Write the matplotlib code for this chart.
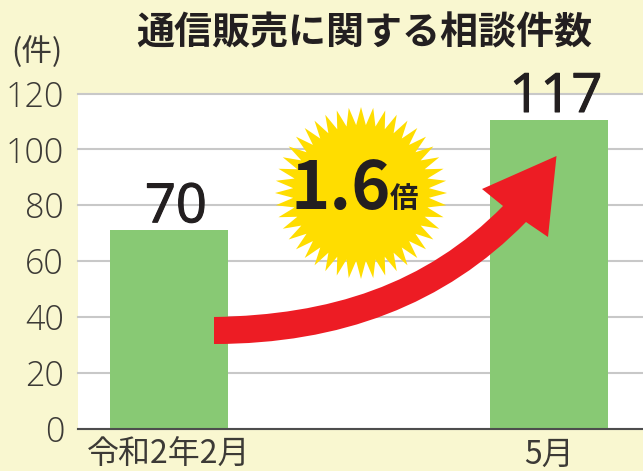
import matplotlib
matplotlib.use("Agg")
import numpy as np
import matplotlib.pyplot as plt
import matplotlib.patheffects as pe
from matplotlib.path import Path
from matplotlib.patches import PathPatch, Polygon
from matplotlib.transforms import Affine2D

plt.rcParams['font.family'] = ['Noto Sans CJK JP', 'DejaVu Sans']

categories = ['令和2年2月', '5月']
bar_heights = [71, 110.5]
value_labels = ['70', '117']
y_ticks = [0, 20, 40, 60, 80, 100, 120]
title = '通信販売に関する相談件数'
unit = '(件)'
W, H = 643, 471
BG = '#f9f7d0'; INK = '#231f20'; GREY = '#3c3a36'

fig = plt.figure(figsize=(W/100, H/100), dpi=100, facecolor=BG)
ax = fig.add_axes([78/W, 1-428.5/H, (W-78)/W, 335/H])
x = np.arange(len(categories))
ax.bar(x, bar_heights, width=118/380, color='#88c974', zorder=2)
ax.set_xlim(-91/380, 1+94/380)
ax.set_ylim(0, 120)
ax.set_yticks(y_ticks)
ax.set_xticks(x, categories)
ax.grid(axis='y', color='#c8c8c8', lw=1.5, zorder=1, clip_on=False)
ax.set_axisbelow(True)
for line in ax.get_ygridlines():
    line.set_clip_on(False)
for s in ['top', 'right', 'left']:
    ax.spines[s].set_visible(False)
ax.spines['bottom'].set_color('#4d4d4d')
ax.spines['bottom'].set_linewidth(1.5)
ax.spines['bottom'].set_zorder(4)
ax.tick_params(axis='y', length=0, labelsize=24.5, labelcolor=GREY, pad=10)
ax.tick_params(axis='x', length=0, labelsize=23, labelcolor=GREY, pad=7.5)
for lab in ax.get_yticklabels():
    lab.set_fontfamily(['Open Sans', 'DejaVu Sans'])
    lab.set_fontweight('light')

px = Affine2D().scale(1, -1).translate(0, H)  # pixel coordinates, y down

for xi, h, s in zip(x, bar_heights, value_labels):
    ax.annotate(s, (xi, h), xytext=(5, 5.8), textcoords='offset points', ha='center', va='baseline',
                fontsize=39, color=INK, zorder=5, annotation_clip=False,
                family=['Open Sans', 'DejaVu Sans'],
                path_effects=[pe.withStroke(linewidth=0.8, foreground=INK)])

fig.text(364/W, 1-33/H, title, ha='center', va='center', fontsize=27.4, fontweight='bold', color=INK)
fig.text(37/W, 1-52/H, unit, ha='center', va='center', fontsize=22, color=GREY)

# starburst badge
n = 44
ang = np.linspace(0, 2*np.pi, 2*n, endpoint=False)
rad = np.where(np.arange(2*n) % 2 == 0, 86, 68)
star = np.column_stack([361+rad*np.cos(ang), 193+rad*np.sin(ang)])
fig.add_artist(Polygon(star, closed=True, facecolor='#ffdd00', edgecolor='none', transform=px, zorder=6))
fig.text(341/W, 1-189/H, '1.6', ha='center', va='center', fontsize=48, fontweight='bold', color=INK, zorder=7)
fig.text(404.5/W, 1-199/H, '倍', ha='center', va='center', fontsize=20.5, fontweight='bold', color=INK, zorder=7)

# curved arrow
verts = [(214, 317), (330, 315), (425, 285), (503, 206),
         (482, 189), (556.5, 156), (548, 237), (526, 222),
         (445, 305), (340, 344), (214, 344), (214, 317)]
codes = [Path.MOVETO, Path.CURVE4, Path.CURVE4, Path.CURVE4,
         Path.LINETO, Path.LINETO, Path.LINETO, Path.LINETO,
         Path.CURVE4, Path.CURVE4, Path.CURVE4, Path.CLOSEPOLY]
fig.add_artist(PathPatch(Path(verts, codes), facecolor='#ed1c24', edgecolor='none', transform=px, zorder=6))

fig.savefig('out.png', dpi=100, facecolor=BG)
